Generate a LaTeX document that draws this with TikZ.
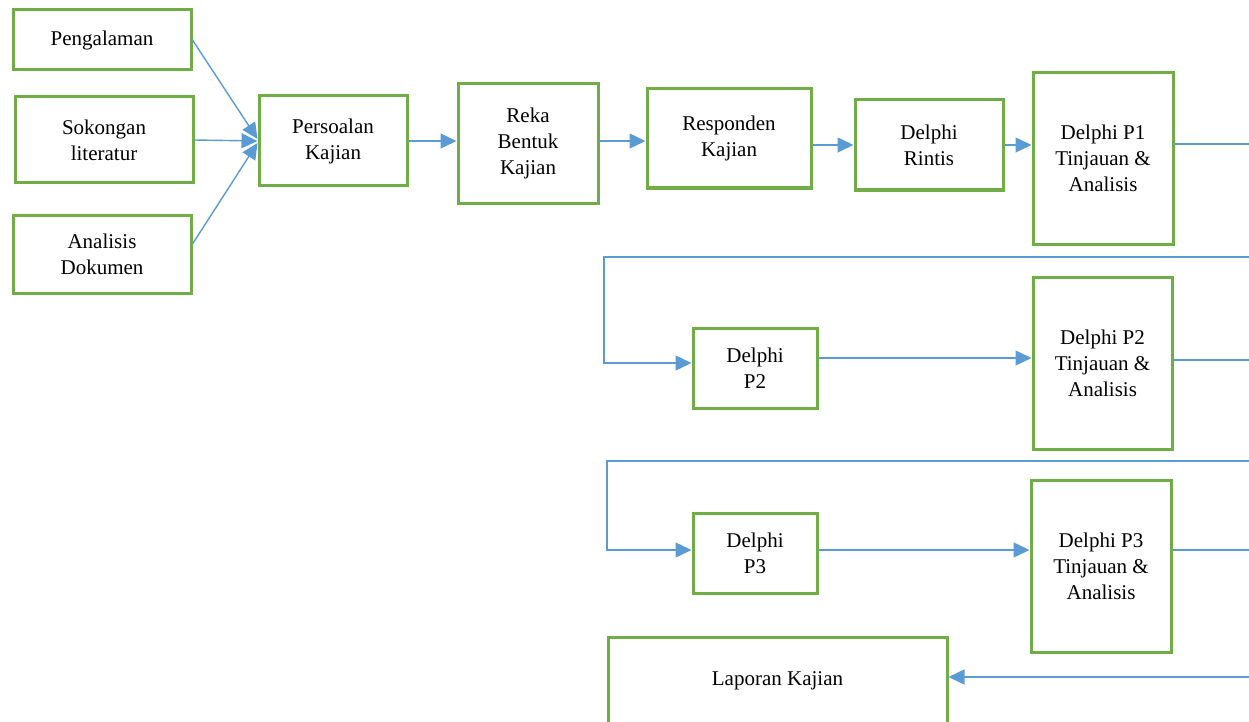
\documentclass[tikz,border=0pt]{standalone}
\usepackage{fontspec}
\setmainfont{Liberation Serif}
\usetikzlibrary{arrows.meta}
\definecolor{boxgreen}{HTML}{70AD47}
\definecolor{lineblue}{HTML}{5B9BD5}
\begin{document}
\begin{tikzpicture}[x=1pt,y=1pt,
  box/.style={draw=boxgreen,line width=3pt,fill=white,inner sep=0pt,align=center,
    font=\fontsize{21}{26}\selectfont},
  link/.style={draw=lineblue,line width=1.4pt},
  arr/.style={link,-{Triangle[length=16pt,width=15pt]}}]
\useasboundingbox (0,0) rectangle (1249,-722);
% input boxes
\node[box,minimum width=178,minimum height=60] (pengalaman) at (102,-40) {Pengalaman};
\node[box,minimum width=178,minimum height=86] (sokongan) at (104,-140) {Sokongan\\literatur};
\node[box,minimum width=178,minimum height=78] (analisis) at (102,-254) {Analisis\\Dokumen};
% main row
\node[box,minimum width=148,minimum height=90] (persoalan) at (333,-141) {Persoalan\\Kajian};
\node[box,minimum width=140,minimum height=119] (reka) at (528,-143.5) {Reka\\Bentuk\\Kajian};
\node[box,minimum width=164,minimum height=99] (responden) at (729,-138.5) {Responden\\Kajian};
\node[box,minimum width=148,minimum height=90] (rintis) at (929,-145) {Delphi\\Rintis};
\node[box,minimum width=140,minimum height=171] (p1t) at (1103,-158.5) {Delphi P1\\Tinjauan \&\\Analisis};
% second round
\node[box,minimum width=124,minimum height=80] (dp2) at (755,-368) {Delphi\\P2};
\node[box,minimum width=139,minimum height=172] (p2t) at (1102.5,-363) {Delphi P2\\Tinjauan \&\\Analisis};
% third round
\node[box,minimum width=124,minimum height=80] (dp3) at (755,-553) {Delphi\\P3};
\node[box,minimum width=140,minimum height=172] (p3t) at (1101,-566) {Delphi P3\\Tinjauan \&\\Analisis};
% report
\node[box,minimum width=339,minimum height=88] (laporan) at (777.5,-681) {Laporan Kajian};

% free ends at the right margin
\coordinate (r1) at (1249,-144);
\coordinate (r1b) at (1249,-257);
\coordinate (r2) at (1249,-360);
\coordinate (r2b) at (1249,-461);
\coordinate (r3) at (1249,-550);
\coordinate (r3b) at (1249,-677);
\coordinate (k1) at (604,-257);
\coordinate (k2) at (607,-461);

% converging inputs
\draw[arr] (pengalaman.east) -- ([yshift=2pt]persoalan.west);
\draw[arr] (sokongan.east) -- (persoalan.west);
\draw[arr] (analisis.east |- 0,-244) -- ([yshift=-2pt]persoalan.west);
% main chain
\draw[arr] (persoalan.east) -- (reka.west |- persoalan.east);
\draw[arr] (reka.east |- 0,-141) -- (responden.west |- 0,-141);
\draw[arr] (responden.east |- rintis.west) -- (rintis.west);
\draw[arr] (rintis.east) -- (p1t.west |- rintis.east);
\draw[link] (p1t.east |- r1) -- (r1);
% return to round two
\draw[arr] (r1b) -- (k1) |- (dp2.west |- 0,-363);
\draw[arr] (dp2.east |- 0,-358) -- (p2t.west |- 0,-358);
\draw[link] (p2t.east |- r2) -- (r2);
% return to round three
\draw[arr] (r2b) -- (k2) |- (dp3.west |- 0,-550);
\draw[arr] (dp3.east |- 0,-550) -- (p3t.west |- 0,-550);
\draw[link] (p3t.east |- r3) -- (r3);
% into the report
\draw[arr] (r3b) -- (laporan.east |- r3b);
\end{tikzpicture}
\end{document}
